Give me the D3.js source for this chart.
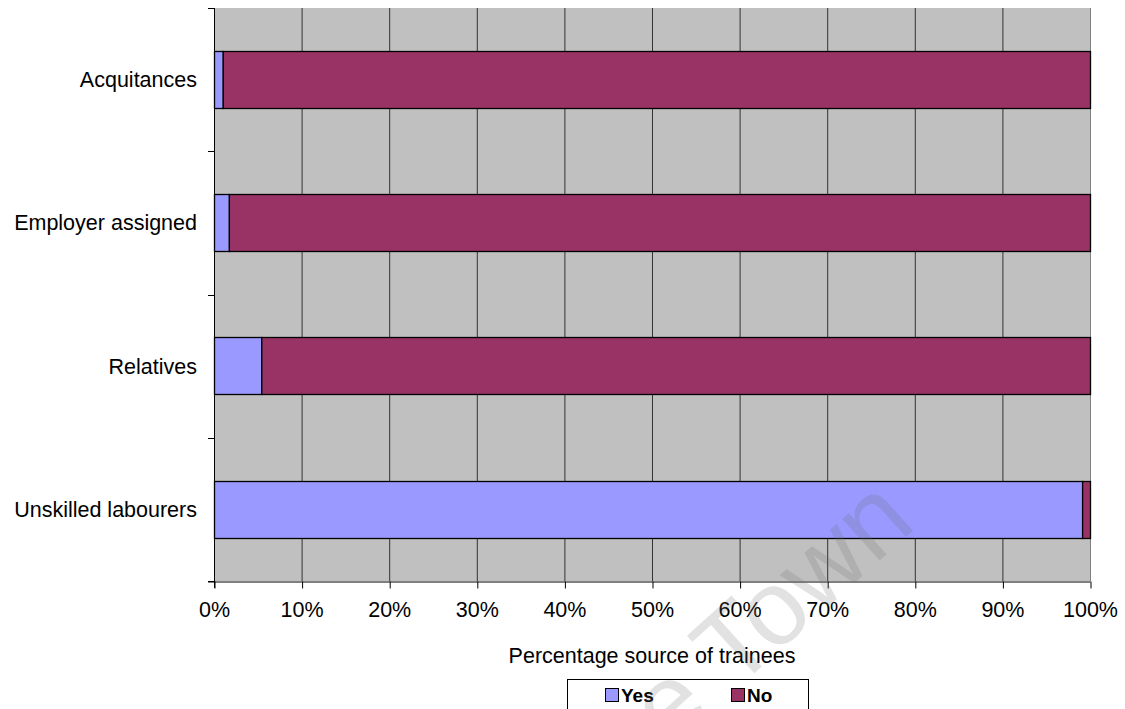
<!DOCTYPE html>
<html>
<head>
<meta charset="utf-8">
<script src="https://cdn.jsdelivr.net/npm/d3@7"></script>
<style>
  html, body { margin: 0; padding: 0; background: #fff; }
  svg { display: block; font-family: "Liberation Sans", Arial, sans-serif; }
</style>
</head>
<body>
<svg id="chart" width="1125" height="709"></svg>
<script>
// Source of trainees: share answering Yes / No per source
const categories = ["Acquitances", "Employer assigned", "Relatives", "Unskilled labourers"];
const yesValues = [1.0, 1.7, 5.4, 99.1];
const noValues = [99.0, 98.3, 94.6, 0.9];
const xTicks = [0, 10, 20, 30, 40, 50, 60, 70, 80, 90, 100];
const seriesNames = ["Yes", "No"];
const seriesColors = ["#9999ff", "#993366"];

const svg = d3.select("#chart");
const plot = { left: 214, right: 1090, top: 8, bottom: 581 };

const x = d3.scaleLinear().domain([0, 100]).range([plot.left, plot.right]);
const y = d3.scaleBand().domain(categories).range([plot.top, plot.bottom]).paddingInner(0.6).paddingOuter(0.3);
const yEdges = d3.scaleLinear().domain([0, categories.length]).range([plot.top, plot.bottom]);

// plot background
svg.append("rect")
  .attr("x", plot.left).attr("y", plot.top)
  .attr("width", plot.right - plot.left).attr("height", plot.bottom - plot.top)
  .attr("fill", "#c0c0c0");

// vertical gridlines
svg.append("g").selectAll("line").data(xTicks.slice(1)).join("line")
  .attr("x1", d => x(d) + 0.5).attr("x2", d => x(d) + 0.5)
  .attr("y1", plot.top).attr("y2", plot.bottom)
  .attr("stroke", d => d === 100 ? "#808080" : "#333")
  .attr("stroke-width", 1);

// stacked bars
const stacked = categories.map((c, i) => ({ cat: c, parts: [
  { key: 0, x0: 0, x1: yesValues[i] },
  { key: 1, x0: yesValues[i], x1: yesValues[i] + noValues[i] }
]}));

svg.append("g").selectAll("g").data(stacked).join("g")
  .selectAll("rect").data(d => d.parts.map(p => ({ ...p, cat: d.cat }))).join("rect")
  .attr("x", d => x(d.x0) + 0.5)
  .attr("y", d => Math.round(y(d.cat)) + 0.5)
  .attr("width", d => x(d.x1) - x(d.x0))
  .attr("height", Math.round(y.bandwidth()))
  .attr("fill", d => seriesColors[d.key])
  .attr("stroke", "#000")
  .attr("stroke-width", 1.3);

// x axis
const xAxis = d3.axisBottom(x).tickValues(xTicks).tickFormat(d => d + "%").tickSize(7).tickPadding(13);
const gx = svg.append("g").attr("transform", `translate(0,${plot.bottom + 0.5})`).call(xAxis);
gx.select(".domain").attr("d", `M${plot.left - 6},0.5H${plot.right + 0.5}`).attr("stroke", "#000");
gx.selectAll(".tick line").attr("stroke", "#000").attr("transform", "translate(0.5,0)");
gx.selectAll("text").attr("font-size", 21.5).attr("fill", "#000").attr("font-family", "Liberation Sans, Arial, sans-serif");

// y axis: ticks at band edges, labels at band centres
const gy = svg.append("g");
gy.append("line")
  .attr("x1", plot.left + 0.5).attr("x2", plot.left + 0.5)
  .attr("y1", plot.top).attr("y2", plot.bottom + 7)
  .attr("stroke", "#000");
gy.selectAll("line.edge").data(d3.range(categories.length + 1)).join("line")
  .attr("class", "edge")
  .attr("x1", plot.left - 6).attr("x2", plot.left)
  .attr("y1", d => Math.round(yEdges(d)) + 0.5).attr("y2", d => Math.round(yEdges(d)) + 0.5)
  .attr("stroke", "#000");
gy.selectAll("text").data(categories).join("text")
  .attr("x", 197)
  .attr("y", d => y(d) + y.bandwidth() / 2)
  .attr("dy", "0.35em")
  .attr("text-anchor", "end")
  .attr("font-size", 21.5)
  .text(d => d);

// axis title
svg.append("text")
  .attr("x", x(50)).attr("y", 663)
  .attr("text-anchor", "middle")
  .attr("font-size", 21.5)
  .text("Percentage source of trainees");

// legend
const legend = svg.append("g");
legend.append("rect")
  .attr("x", 567.5).attr("y", 679.5).attr("width", 241).attr("height", 40)
  .attr("fill", "#fff").attr("stroke", "#000");
const legendX = [605, 731];
seriesNames.forEach((name, i) => {
  legend.append("rect")
    .attr("x", legendX[i] + 0.5).attr("y", 688.5).attr("width", 13).attr("height", 13)
    .attr("fill", seriesColors[i]).attr("stroke", "#000");
  legend.append("text")
    .attr("x", legendX[i] + 16).attr("y", 702)
    .attr("font-size", 19).attr("font-weight", "bold")
    .text(name);
});

// faint watermark
svg.append("text")
  .attr("transform", "translate(918,526) rotate(-42)")
  .attr("text-anchor", "end")
  .attr("font-size", 106)
  .attr("fill", "#707070")
  .attr("fill-opacity", 0.2)
  .text("Cape Town");
</script>
</body>
</html>
